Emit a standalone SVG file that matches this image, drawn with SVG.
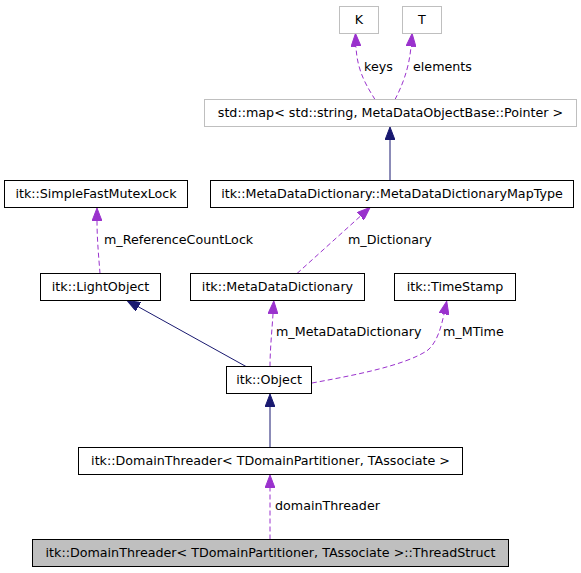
<svg xmlns="http://www.w3.org/2000/svg" width="581" height="573" viewBox="0 0 581 573">
<style>
  .node rect { fill: #ffffff; stroke: #000000; stroke-width: 1; }
  .node.ext rect { stroke: #bfbfbf; }
  .node.main rect { fill: #bfbfbf; }
  text { font-family: "DejaVu Sans", sans-serif; font-size: 12.7px; fill: #000000; }
  .node text { text-anchor: middle; }
  .use { fill: none; stroke: #9a32cd; stroke-width: 1; stroke-dasharray: 5,3; }
  .inh { fill: none; stroke: #191970; stroke-width: 1; }
</style>
<defs>
  <marker id="ap" viewBox="0 0 13 10" refX="0" refY="5" markerWidth="13" markerHeight="10" markerUnits="userSpaceOnUse" orient="auto">
    <path d="M0,0 L13,5 L0,10 Z" fill="#9a32cd" stroke="#9a32cd" stroke-dasharray="none"/>
  </marker>
  <marker id="an" viewBox="0 0 13 10" refX="0" refY="5" markerWidth="13" markerHeight="10" markerUnits="userSpaceOnUse" orient="auto">
    <path d="M0,0 L13,5 L0,10 Z" fill="#191970" stroke="#191970" stroke-dasharray="none"/>
  </marker>
</defs>
<rect width="581" height="573" fill="#ffffff"/>
<g id="connectors">
  <path class="use" d="M375,99.5 C368,88 357,72 356,46.5" marker-end="url(#ap)"/>
  <path class="use" d="M395,99.5 C401,88 409,70 411,46.5" marker-end="url(#ap)"/>
  <path class="inh" d="M390,180.5 L390,140" marker-end="url(#an)"/>
  <path class="use" d="M100,273.5 C99,260 97,240 97,221" marker-end="url(#ap)"/>
  <path class="use" d="M297,273.5 L360.4,216.2" marker-end="url(#ap)"/>
  <path class="inh" d="M246,366.5 L138.4,306.8" marker-end="url(#an)"/>
  <path class="use" d="M270,366.5 C270,350 272,330 273,314" marker-end="url(#ap)"/>
  <path class="use" d="M312,383 C350,376 405,366 428,350 C437,342 441,328 444,314" marker-end="url(#ap)"/>
  <path class="inh" d="M270,447.5 L270,407" marker-end="url(#an)"/>
  <path class="use" d="M270,539.5 L270,488" marker-end="url(#ap)"/>
  <text x="364" y="71">keys</text>
  <text x="413" y="71">elements</text>
  <text x="104" y="244">m_ReferenceCountLock</text>
  <text x="348" y="244">m_Dictionary</text>
  <text x="276" y="336">m_MetaDataDictionary</text>
  <text x="443" y="336">m_MTime</text>
  <text x="275" y="510">domainThreader</text>
</g>
<g id="K" class="node ext"><rect x="339.5" y="6.5" width="39" height="27"/><text x="359" y="24">K</text></g>
<g id="T" class="node ext"><rect x="402.5" y="6.5" width="39" height="27"/><text x="422" y="24">T</text></g>
<g id="stdmap" class="node ext"><rect x="204.5" y="99.5" width="372" height="27"/><text x="390.5" y="117">std::map&lt; std::string, MetaDataObjectBase::Pointer &gt;</text></g>
<g id="SimpleFastMutexLock" class="node"><rect x="4.5" y="180.5" width="183" height="27"/><text x="96" y="198">itk::SimpleFastMutexLock</text></g>
<g id="MapType" class="node"><rect x="210.5" y="180.5" width="363" height="27"/><text x="392" y="198">itk::MetaDataDictionary::MetaDataDictionaryMapType</text></g>
<g id="LightObject" class="node"><rect x="40.5" y="273.5" width="120" height="27"/><text x="100.5" y="291">itk::LightObject</text></g>
<g id="MetaDataDictionary" class="node"><rect x="190.5" y="273.5" width="174" height="27"/><text x="277.5" y="291">itk::MetaDataDictionary</text></g>
<g id="TimeStamp" class="node"><rect x="394.5" y="273.5" width="121" height="27"/><text x="455" y="291">itk::TimeStamp</text></g>
<g id="Object" class="node"><rect x="226.5" y="366.5" width="85" height="27"/><text x="269" y="384">itk::Object</text></g>
<g id="DomainThreader" class="node"><rect x="78.5" y="447.5" width="384" height="27"/><text x="270.5" y="465">itk::DomainThreader&lt; TDomainPartitioner, TAssociate &gt;</text></g>
<g id="ThreadStruct" class="node main"><rect x="32.5" y="539.5" width="476" height="27"/><text x="270.5" y="557">itk::DomainThreader&lt; TDomainPartitioner, TAssociate &gt;::ThreadStruct</text></g>
</svg>
